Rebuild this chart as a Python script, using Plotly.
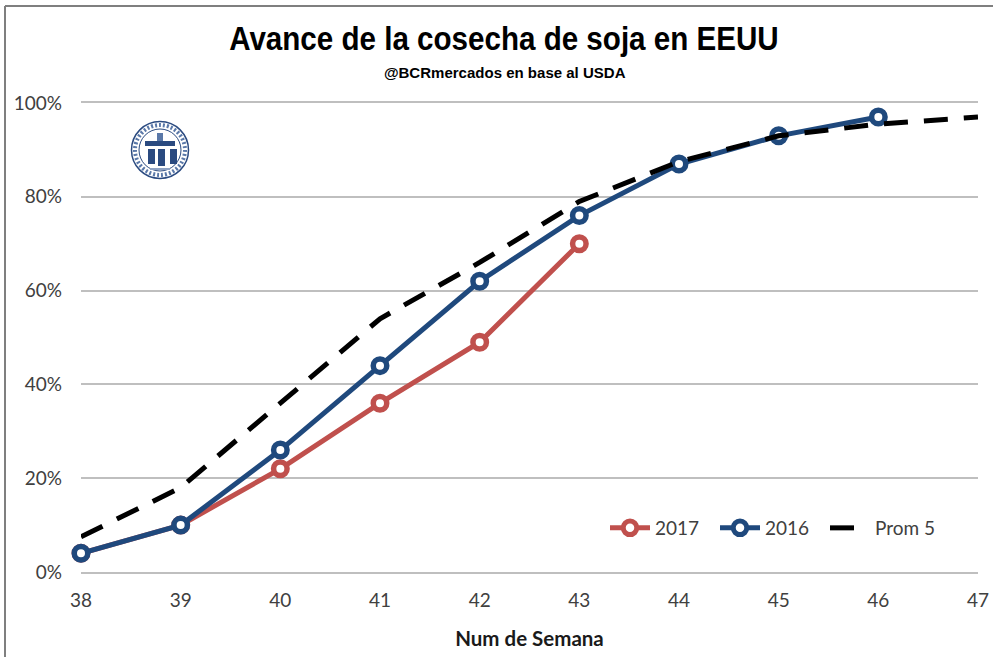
import plotly.graph_objects as go

W, H = 993, 657
weeks = [38, 39, 40, 41, 42, 43, 44, 45, 46, 47]
prom5 = [7.5, 18, 36, 54, 66, 79, 87.5, 93, 95.5, 97]
y2016 = [4, 10, 26, 44, 62, 76, 87, 93, 97]
y2017 = [4, 10, 22, 36, 49, 70]
y_ticks = [0, 20, 40, 60, 80, 100]
y_labels = ["0%", "20%", "40%", "60%", "80%", "100%"]

TICK = dict(family="Lato, Open Sans, sans-serif", size=19, color="#404040")
RED, BLUE = "#C0504D", "#1F497D"
NAVY = "#2A4A80"
GRID = "#BFBFBF"
NARROW = "Liberation Sans, sans-serif"

fig = go.Figure()
fig.add_trace(go.Scatter(x=weeks[:len(y2017)], y=y2017, name="2017", mode="lines+markers", cliponaxis=False,
                         line=dict(color=RED, width=5),
                         marker=dict(size=13.5, color="white", line=dict(color=RED, width=5.5))))
fig.add_trace(go.Scatter(x=weeks[:len(y2016)], y=y2016, name="2016", mode="lines+markers", cliponaxis=False,
                         line=dict(color=BLUE, width=5),
                         marker=dict(size=13.5, color="white", line=dict(color=BLUE, width=5.5))))
fig.add_trace(go.Scatter(x=weeks, y=prom5, name="Prom 5", mode="lines", cliponaxis=False,
                         line=dict(color="black", width=5, dash="24px,16px")))

L, R, T, B = 81, 978, 103, 572
fig.update_layout(
    width=W, height=H, autosize=False,
    paper_bgcolor="white", plot_bgcolor="white",
    margin=dict(l=L, r=W - R, t=T, b=H - B),
    showlegend=True,
    legend=dict(orientation="h", x=(605 - L) / (R - L), y=(B - 528) / (B - T), xanchor="left", yanchor="middle",
                itemwidth=40, entrywidth=55, entrywidthmode="pixels", font=TICK,
                bgcolor="rgba(0,0,0,0)", traceorder="normal"),
    xaxis=dict(range=[38, 47], tickvals=weeks, ticks="", showgrid=False, zeroline=False, automargin=False,
               showline=True, mirror=True, linecolor=GRID, linewidth=2, tickfont=TICK, ticklabelstandoff=10,
               title=dict(text="<b>Num de Semana</b>", standoff=22,
                          font=dict(family="Lato, Open Sans, sans-serif", size=20.5, color="#1a1a1a"))),
    yaxis=dict(range=[0, 100], tickvals=y_ticks, ticktext=y_labels, ticks="", gridcolor=GRID, automargin=False,
               gridwidth=2, zeroline=False, showline=False, tickfont=TICK, ticklabelstandoff=18),
    font=dict(family="Lato, sans-serif"),
)

def px(x, y):
    return (x - L) / (R - L), (B - y) / (B - T)

def t(x, y, text, **kw):
    a = px(x, y)
    fig.add_annotation(xref="paper", yref="paper", x=a[0], y=a[1], text=text, showarrow=False,
                       xanchor="center", yanchor="middle", **kw)

t(504, 38, "<b>Avance de la cosecha de soja en EEUU</b>", font=dict(family=NARROW, size=34, color="black"))
t(504, 72, "<b>@BCRmercados en base al USDA</b>", font=dict(family=NARROW, size=15.5, color="black"))

def shape(kind, x0, y0, x1, y1, **kw):
    a, b = px(x0, y0), px(x1, y1)
    fig.add_shape(type=kind, xref="paper", yref="paper", x0=a[0], x1=b[0], y0=a[1], y1=b[1], **kw)

def circle(cx, cy, r, **kw):
    shape("circle", cx - r, cy - r, cx + r, cy + r, **kw)

# logo
LX, LY = 160, 150
circle(LX, LY, 28.5, line=dict(color=NAVY, width=1.5), fillcolor="white")
circle(LX, LY, 25, line=dict(color="#5A78A8", width=4, dash="2px,2px"))
circle(LX, LY, 21, line=dict(color=NAVY, width=1), fillcolor="white")
none = dict(width=0)
shape("rect", 145, 141, 175, 146, fillcolor=NAVY, line=none)
shape("rect", 157, 133, 163, 141, fillcolor="#5A78A8", line=none)
shape("rect", 148, 149, 155, 164, fillcolor=NAVY, line=none)
shape("rect", 158, 149, 165, 166, fillcolor=NAVY, line=none)
shape("rect", 170, 149, 177, 164, fillcolor=NAVY, line=none)
shape("rect", 150, 168, 170, 170, fillcolor="#8FA3C4", line=none)

# outer picture frame
shape("line", 5, 6, 5, H, line=dict(color="#7F7F7F", width=2))
shape("line", 5, 6, W, 6, line=dict(color="#7F7F7F", width=2))

post = """
document.body.style.margin = '0';
document.body.style.overflow = 'hidden';
var a = document.querySelectorAll('.annotation-text');
[[0, 0.87], [1, 0.97]].forEach(function (p) {
  var e = a[p[0]];
  if (e) { e.style.transformBox = 'fill-box'; e.style.transformOrigin = 'center'; e.style.transform = 'scaleX(' + p[1] + ')'; }
});
"""
fig.write_html("out.html", post_script=post, config=dict(displayModeBar=False))
